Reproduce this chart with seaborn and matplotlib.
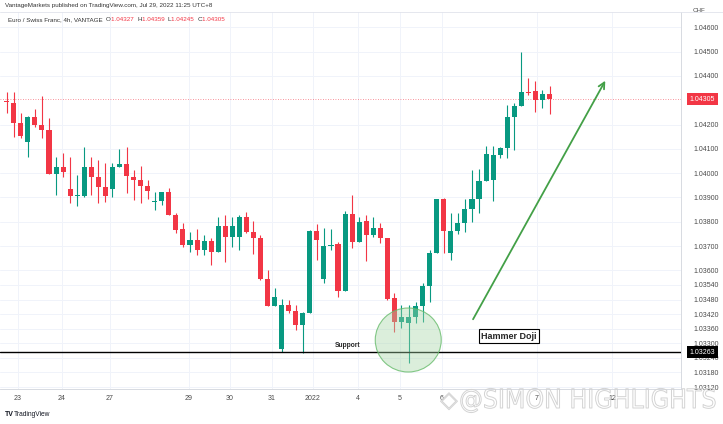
import matplotlib
matplotlib.use("Agg")
import matplotlib.pyplot as plt
import matplotlib.patheffects as pe
from matplotlib.patches import Ellipse
from matplotlib.lines import Line2D
import numpy as np
import pandas as pd
import seaborn as sns

# EUR/CHF 4h candles (open, high, low, close)
opens = [1.04297, 1.04290, 1.04205, 1.04130, 1.04232, 1.04198, 1.04178, 1.03997, 1.04027, 1.03935,
         1.03908, 1.03906, 1.04026, 1.03986, 1.03944, 1.03934, 1.04027, 1.04038, 1.03986, 1.03972,
         1.03947, 1.03880, 1.03887, 1.03921, 1.03829, 1.03769, 1.03705, 1.03725, 1.03684, 1.03721,
         1.03677, 1.03783, 1.03739, 1.03739, 1.03819, 1.03759, 1.03732, 1.03563, 1.03454, 1.03275,
         1.03458, 1.03434, 1.03375, 1.03426, 1.03763, 1.03563, 1.03700, 1.03709, 1.03517, 1.03832,
         1.03718, 1.03805, 1.03746, 1.03773, 1.03732, 1.03485, 1.03389, 1.03382, 1.03407, 1.03454,
         1.03536, 1.03673, 1.03893, 1.03670, 1.03763, 1.03794, 1.03851, 1.03893, 1.03969, 1.03972,
         1.04075, 1.04102, 1.04230, 1.04277, 1.04335, 1.04340, 1.04301, 1.04327]
highs = [1.04334, 1.04335, 1.04248, 1.04234, 1.04264, 1.04318, 1.04227, 1.04067, 1.04083, 1.04068,
         1.03993, 1.04109, 1.04067, 1.04054, 1.04043, 1.04043, 1.04100, 1.04109, 1.04013, 1.04030,
         1.03972, 1.03924, 1.03924, 1.03938, 1.03836, 1.03795, 1.03759, 1.03770, 1.03746, 1.03733,
         1.03821, 1.03828, 1.03821, 1.03828, 1.03842, 1.03805, 1.03746, 1.03602, 1.03526, 1.03481,
         1.03478, 1.03458, 1.03430, 1.03765, 1.03791, 1.03773, 1.03769, 1.03718, 1.03846, 1.03910,
         1.03821, 1.03828, 1.03819, 1.03794, 1.03734, 1.03506, 1.03458, 1.03458, 1.03471, 1.03547,
         1.03684, 1.03895, 1.03898, 1.03837, 1.03837, 1.03893, 1.04013, 1.04016, 1.04112, 1.04112,
         1.04109, 1.04281, 1.04288, 1.04500, 1.04390, 1.04381, 1.04342, 1.04359]
lows = [1.04248, 1.04150, 1.04144, 1.04068, 1.04191, 1.04145, 1.03995, 1.03910, 1.03986, 1.03877,
        1.03865, 1.03903, 1.03910, 1.03877, 1.03883, 1.03903, 1.04024, 1.03917, 1.03890, 1.03877,
        1.03892, 1.03849, 1.03869, 1.03828, 1.03754, 1.03698, 1.03677, 1.03663, 1.03663, 1.03622,
        1.03677, 1.03636, 1.03698, 1.03684, 1.03753, 1.03668, 1.03562, 1.03453, 1.03453, 1.03265,
        1.03424, 1.03355, 1.03260, 1.03424, 1.03643, 1.03547, 1.03684, 1.03489, 1.03515, 1.03691,
        1.03716, 1.03640, 1.03739, 1.03712, 1.03480, 1.03348, 1.03362, 1.03220, 1.03382, 1.03389,
        1.03471, 1.03670, 1.03670, 1.03643, 1.03750, 1.03759, 1.03800, 1.03835, 1.03967, 1.03887,
        1.04061, 1.04061, 1.04095, 1.04275, 1.04322, 1.04253, 1.04267, 1.04245]
closes = [1.04293, 1.04205, 1.04153, 1.04232, 1.04198, 1.04178, 1.03997, 1.04027, 1.04005, 1.03906,
          1.03910, 1.04026, 1.03986, 1.03944, 1.03906, 1.04027, 1.04038, 1.03988, 1.03972, 1.03947,
          1.03928, 1.03887, 1.03921, 1.03829, 1.03766, 1.03705, 1.03725, 1.03684, 1.03721, 1.03677,
          1.03783, 1.03739, 1.03783, 1.03819, 1.03759, 1.03732, 1.03563, 1.03454, 1.03489, 1.03458,
          1.03434, 1.03375, 1.03424, 1.03763, 1.03725, 1.03700, 1.03704, 1.03517, 1.03832, 1.03718,
          1.03800, 1.03746, 1.03773, 1.03732, 1.03481, 1.03389, 1.03407, 1.03407, 1.03454, 1.03536,
          1.03673, 1.03893, 1.03763, 1.03763, 1.03794, 1.03851, 1.03893, 1.03969, 1.04079, 1.04075,
          1.04102, 1.04230, 1.04277, 1.04335, 1.04331, 1.04301, 1.04326, 1.04305]

# day labels on the time axis, at their bar positions
day_labels = ["23", "24", "27", "29", "30", "31", "2022", "4", "5", "6", "7", "12"]
day_pos = [1.6, 7.84, 14.65, 25.86, 31.67, 37.63, 43.45, 49.83, 55.79, 61.74, 75.2, 85.86]

price_ticks = [1.04600, 1.04500, 1.04400, 1.04200, 1.04100, 1.04000, 1.03900, 1.03800, 1.03700,
               1.03600, 1.03540, 1.03480, 1.03420, 1.03360, 1.03300, 1.03240, 1.03180, 1.03120]

last_price = 1.04305
support = 1.03263

UP = "#089981"
DOWN = "#f23645"

df = pd.DataFrame({"open": opens, "high": highs, "low": lows, "close": closes})
df["bar"] = np.arange(len(df))
df["up"] = df["close"] >= df["open"]
df["color"] = np.where(df["up"], UP, DOWN)
df["body_lo"] = df[["open", "close"]].min(axis=1)
df["body_h"] = (df["close"] - df["open"]).abs().clip(lower=0.00002)

sns.set_theme(style="white")
plt.rcParams["font.family"] = ["Liberation Sans", "DejaVu Sans"]

W, H = 723, 424
fig = plt.figure(figsize=(W / 100, H / 100), dpi=100)
ax = fig.add_axes([0, 1 - 389 / H, 681 / W, (389 - 12) / H])

# grid
for p in price_ticks:
    ax.axhline(p, color="#f0f3fa", lw=0.7, zorder=0)
for d in day_pos:
    ax.axvline(d, color="#f0f3fa", lw=0.7, zorder=0)

ax.vlines(df["bar"], df["low"], df["high"], colors=df["color"], lw=0.8, zorder=2)
ax.bar(df["bar"], df["body_h"], bottom=df["body_lo"], width=0.72, color=df["color"],
       linewidth=0, zorder=3)

ax.axhline(last_price, color=DOWN, lw=0.6, ls=(0, (1, 2)), alpha=0.7, zorder=1)
ax.axhline(support, color="black", lw=1.0, zorder=4)

ax.set_xlim(-0.95, 95.65)
ax.set_ylim(1.03112, 1.046633)

ax.yaxis.tick_right()
ax.set_yticks(price_ticks)
ax.set_yticklabels([f"{p:.5f}" for p in price_ticks])
ax.tick_params(axis="y", length=0, pad=9, labelsize=5, labelcolor="#4a4a4a")
ax.set_xticks(day_pos)
ax.set_xticklabels(day_labels)
ax.tick_params(axis="x", length=0, pad=4, labelsize=5, labelcolor="#4a4a4a")
for s in ["top", "left"]:
    ax.spines[s].set_visible(False)
for s in ["right", "bottom"]:
    ax.spines[s].set_color("#d1d4dc")
    ax.spines[s].set_linewidth(0.6)

# price labels on the scale
ytr = ax.get_yaxis_transform()
ax.text(1.013, last_price, f"{last_price:.5f}", transform=ytr, fontsize=5, color="white",
        va="center", ha="left", clip_on=False,
        bbox=dict(boxstyle="square,pad=0.35", fc=DOWN, ec="none"))
ax.text(1.013, support, f"{support:.5f}", transform=ytr, fontsize=5, color="white",
        va="center", ha="left", clip_on=False,
        bbox=dict(boxstyle="square,pad=0.35", fc="black", ec="none"))

# annotations
ax.add_patch(Ellipse((56.96, 1.033136), width=9.36, height=0.002634, fc="#a5d6a7",
                     ec="none", alpha=0.4, zorder=5))
ax.add_patch(Ellipse((56.96, 1.033136), width=9.36, height=0.002634, fc="none",
                     ec="#66bb6a", lw=0.8, alpha=0.8, zorder=5))
ax.annotate("", xy=(85.1, 1.043905), xytext=(65.96, 1.033889),
            arrowprops=dict(arrowstyle="->", color="#43a047", lw=1.3, mutation_scale=11),
            zorder=6)
ax.text(71.25, 1.0333, "Hammer Doji", fontsize=6.5, weight="bold", ha="center", va="center",
        bbox=dict(boxstyle="square,pad=0.25", fc="white", ec="black", lw=0.8), zorder=6)
ax.text(48.3, 1.03292, "Support", fontsize=4.8, weight="bold", ha="center", va="center",
        zorder=6)

# header
fig.add_artist(Line2D([0, 1], [1 - 12 / H, 1 - 12 / H], transform=fig.transFigure,
                      color="#e0e3eb", lw=0.6))
fig.text(5 / W, 1 - 6 / H, "VantageMarkets published on TradingView.com, Jul 29, 2022 11:25 UTC+8",
         fontsize=4.5, color="#333333", va="center")
t = fig.text(8 / W, 1 - 19.5 / H, "Euro / Swiss Franc, 4h, VANTAGE  ", fontsize=4.5,
             color="#333333", va="center")
for key, val in [("O", opens[-1]), ("H", highs[-1]), ("L", lows[-1]), ("C", closes[-1])]:
    t = ax.annotate(key, xy=(1, 0), xycoords=t, fontsize=4.5, color="#333333", va="bottom",
                    annotation_clip=False)
    t = ax.annotate(f"{val:.5f}  ", xy=(1, 0), xycoords=t, fontsize=4.5, color=DOWN,
                    va="bottom", annotation_clip=False)
fig.text(693 / W, 1 - 10 / H, "CHF", fontsize=4.5, color="#4a4a4a", va="center")

# footer
fig.text(5 / W, 1 - 414 / H, "TV", fontsize=5, weight="bold", color="#131722", va="center")
fig.text(14 / W, 1 - 414 / H, "TradingView", fontsize=4.8, color="#131722", va="center")
# watermark: outline only, so the labels underneath stay visible
fig.text(718 / W, 1 - 401 / H, "@SIMON HIGHLIGHTS", fontsize=19, color=(1, 1, 1, 0), ha="right",
         va="center", family="DejaVu Sans", weight="light", stretch="condensed",
         path_effects=[pe.withStroke(linewidth=0.7, foreground="#d3d3d3")])
fig.text(449 / W, 1 - 401 / H, "\u25c7", fontsize=16, color=(1, 1, 1, 0), ha="center",
         va="center", family="DejaVu Sans",
         path_effects=[pe.withStroke(linewidth=0.7, foreground="#d3d3d3")])

fig.savefig("out.png", dpi=100, facecolor="white")
